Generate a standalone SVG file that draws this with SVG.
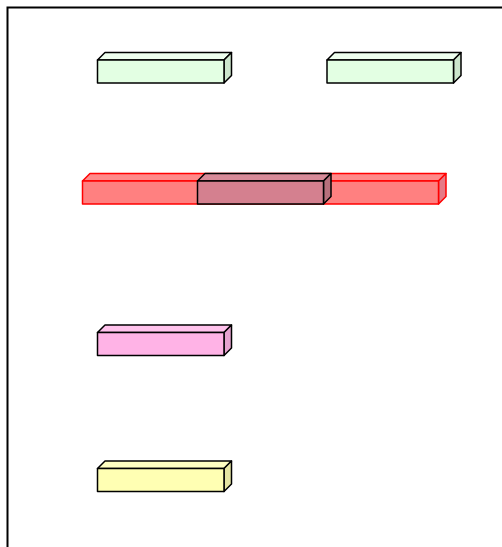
<svg xmlns="http://www.w3.org/2000/svg" width="502" height="547" viewBox="0 0 502 547">
<style>
.k{stroke:#000;stroke-width:1.5;stroke-linejoin:round}
.r{stroke:#ff0000;stroke-width:1.5;stroke-linejoin:round}
</style>
<rect x="0" y="0" width="502" height="547" fill="#fff"/>
<path d="M7.5,547 V7.5 H502" fill="none" stroke="#000" stroke-width="2"/>
<g id="n1">
<polygon class="k" points="97.5,60 105,52.5 231.5,52.5 224,60" fill="#eeffee"/>
<polygon class="k" points="224,60 231.5,52.5 231.5,75.5 224,83" fill="#cce6cc"/>
<rect class="k" x="97.5" y="60" width="126.5" height="23" fill="#e3ffe3"/>
</g>
<g id="n2">
<polygon class="k" points="327,60 334.5,52.5 461,52.5 453.5,60" fill="#eeffee"/>
<polygon class="k" points="453.5,60 461,52.5 461,75.5 453.5,83" fill="#cce6cc"/>
<rect class="k" x="327" y="60" width="126.5" height="23" fill="#e3ffe3"/>
</g>
<g id="n3">
<polygon class="r" points="82.5,181 90,173.5 446,173.5 438.5,181" fill="#ff8a8a"/>
<polygon class="r" points="438.5,181 446,173.5 446,196.5 438.5,204" fill="#e67a86"/>
<rect class="r" x="82.5" y="181" width="356" height="23" fill="#ff8080"/>
</g>
<g id="n4">
<polygon class="k" points="197.5,181 205,173.5 331,173.5 323.5,181" fill="#d88a98"/>
<polygon class="k" points="323.5,181 331,173.5 331,196.5 323.5,204" fill="#b8707c"/>
<rect class="k" x="197.5" y="181" width="126" height="23" fill="#d4808f"/>
</g>
<g id="n5">
<polygon class="k" points="97.5,332.5 105,325 231.5,325 224,332.5" fill="#ffc2ec"/>
<polygon class="k" points="224,332.5 231.5,325 231.5,348 224,355.5" fill="#e6a3d0"/>
<rect class="k" x="97.5" y="332.5" width="126.5" height="23" fill="#ffb3e6"/>
</g>
<g id="n6">
<polygon class="k" points="97.5,468.5 105,461 231.5,461 224,468.5" fill="#ffffc2"/>
<polygon class="k" points="224,468.5 231.5,461 231.5,484 224,491.5" fill="#e6e6a3"/>
<rect class="k" x="97.5" y="468.5" width="126.5" height="23" fill="#ffffb3"/>
</g>
<g id="connectors"></g>
</svg>
